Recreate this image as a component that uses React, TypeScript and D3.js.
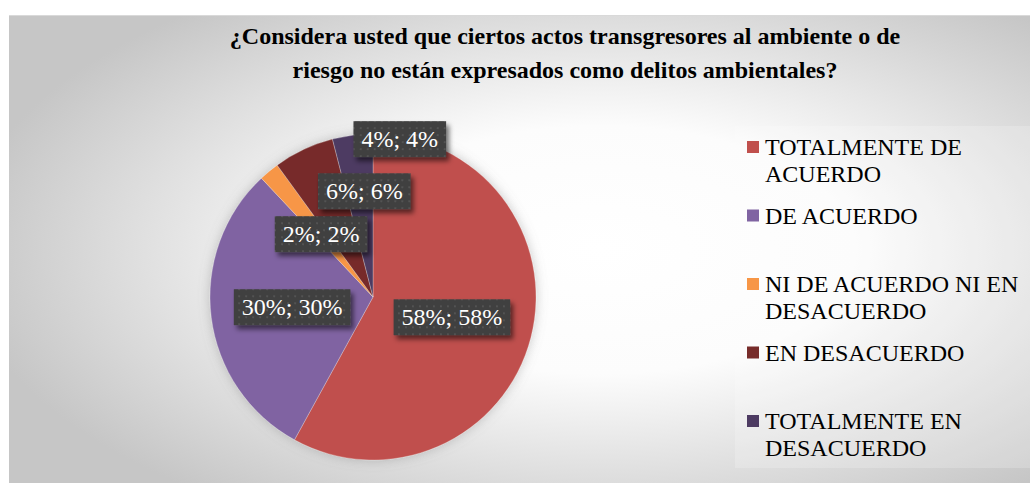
import React from 'react';
import * as d3 from 'd3';

const titleLines = [
  '¿Considera usted que ciertos actos transgresores al ambiente o de',
  'riesgo no están expresados como delitos ambientales?',
];
const categories = [
  'TOTALMENTE DE ACUERDO',
  'DE ACUERDO',
  'NI DE ACUERDO NI EN DESACUERDO',
  'EN DESACUERDO',
  'TOTALMENTE EN DESACUERDO',
];
// how the legend wraps each category
const legendLines = [
  ['TOTALMENTE DE', 'ACUERDO'],
  ['DE ACUERDO'],
  ['NI DE ACUERDO NI EN', 'DESACUERDO'],
  ['EN DESACUERDO'],
  ['TOTALMENTE EN', 'DESACUERDO'],
];
const values = [58, 30, 2, 6, 4];
const colors = ['#C0504D', '#8064A2', '#F79646', '#772C2A', '#4D3B62'];

// labels that were dragged off their default spot
const labelNudge = [[0, 0], [0, 0], [0, 0], [26, -32], [37, -77]];

const W = 1030;
const H = 483;
const FONT = 'serif';

const ctx = typeof document !== 'undefined' ? document.createElement('canvas').getContext('2d') : null;
const measure = (s: string, size: number) => {
  if (!ctx) return s.length * size * 0.5;
  ctx.font = `${size}px serif`;
  return ctx.measureText(s).width;
};

const cx = 373, cy = 297, R = 163;
const pie = d3.pie<number>().sort(null).value((d) => d);
const arc = d3.arc<d3.PieArcDatum<number>>().innerRadius(0).outerRadius(R);
const labelArc = d3.arc<d3.PieArcDatum<number>>().innerRadius(R * 0.5).outerRadius(R * 0.5);
const slot = d3.scaleLinear().domain([0, categories.length - 1]).range([155, 429]);

export default function App() {
  const arcs = pie(values);
  return (
    <svg width={W} height={H} style={{ position: 'absolute', left: 0, top: 0 }}>
      <defs>
        <radialGradient id="bg" gradientUnits="userSpaceOnUse" cx={0} cy={0} r={1}
          gradientTransform="translate(600,250) scale(640,310)">
          <stop offset={0} stopColor="#ffffff" />
          <stop offset={0.4} stopColor="#fcfcfc" />
          <stop offset={1} stopColor="#c6c6c6" />
        </radialGradient>
        <filter id="pieShadow" x="-20%" y="-20%" width="140%" height="140%">
          <feDropShadow dx={0} dy={0} stdDeviation={6} floodColor="#777" floodOpacity={0.4} />
        </filter>
        <filter id="boxShadow" x="-20%" y="-30%" width="150%" height="180%">
          <feDropShadow dx={3} dy={4} stdDeviation={2.5} floodColor="#000" floodOpacity={0.55} />
        </filter>
        <pattern id="dots" patternUnits="userSpaceOnUse" width={7} height={7}>
          <rect width={7} height={7} fill="#404040" />
          <rect x={2} y={2} width={2} height={2} fill="#525252" />
        </pattern>
      </defs>

      {/* chart area */}
      <rect x={0} y={0} width={W} height={15} fill="#fff" />
      <rect x={9} y={15} width={W - 9} height={H - 15} fill="url(#bg)" />
      <line x1={9} x2={W} y1={15.5} y2={15.5} stroke="#d9d9d9" />

      {titleLines.map((t, i) => (
        <text key={i} x={565} y={44 + i * 34} fontFamily={FONT}
          fontWeight="bold" fontSize={24} textAnchor="middle" fill="#000">{t}</text>
      ))}

      <g transform={`translate(${cx},${cy})`}>
        <g filter="url(#pieShadow)">
          {arcs.map((d, i) => (
            <path key={i} d={arc(d) || ''} fill={colors[i]}
              stroke="rgba(255,255,255,0.35)" strokeWidth={0.75} />
          ))}
        </g>
        {arcs.map((d, i) => {
          const [x, y] = labelArc.centroid(d);
          const label = `${d.data}%; ${d.data}%`;
          const w = measure(label, 24);
          return (
            <g key={i} transform={`translate(${x + labelNudge[i][0]},${y + labelNudge[i][1]})`}>
              <rect x={-w / 2 - 8} y={-18} width={w + 16} height={36}
                fill="url(#dots)" filter="url(#boxShadow)" />
              <text y={8} fontFamily={FONT} fontSize={24} fill="#fff" textAnchor="middle">{label}</text>
            </g>
          );
        })}
      </g>

      {/* legend */}
      <rect x={735} y={126} width={W - 735} height={342} fill="#fff" opacity={0.2} />
      {categories.map((c, i) => (
        <g key={c} transform={`translate(747,${slot(i)})`}>
          <rect y={-14} width={12} height={12} fill={colors[i]} />
          {legendLines[i].map((l, j) => (
            <text key={j} x={18} y={j * 27} fontFamily={FONT} fontSize={24} fill="#000">{l}</text>
          ))}
        </g>
      ))}
    </svg>
  );
}
